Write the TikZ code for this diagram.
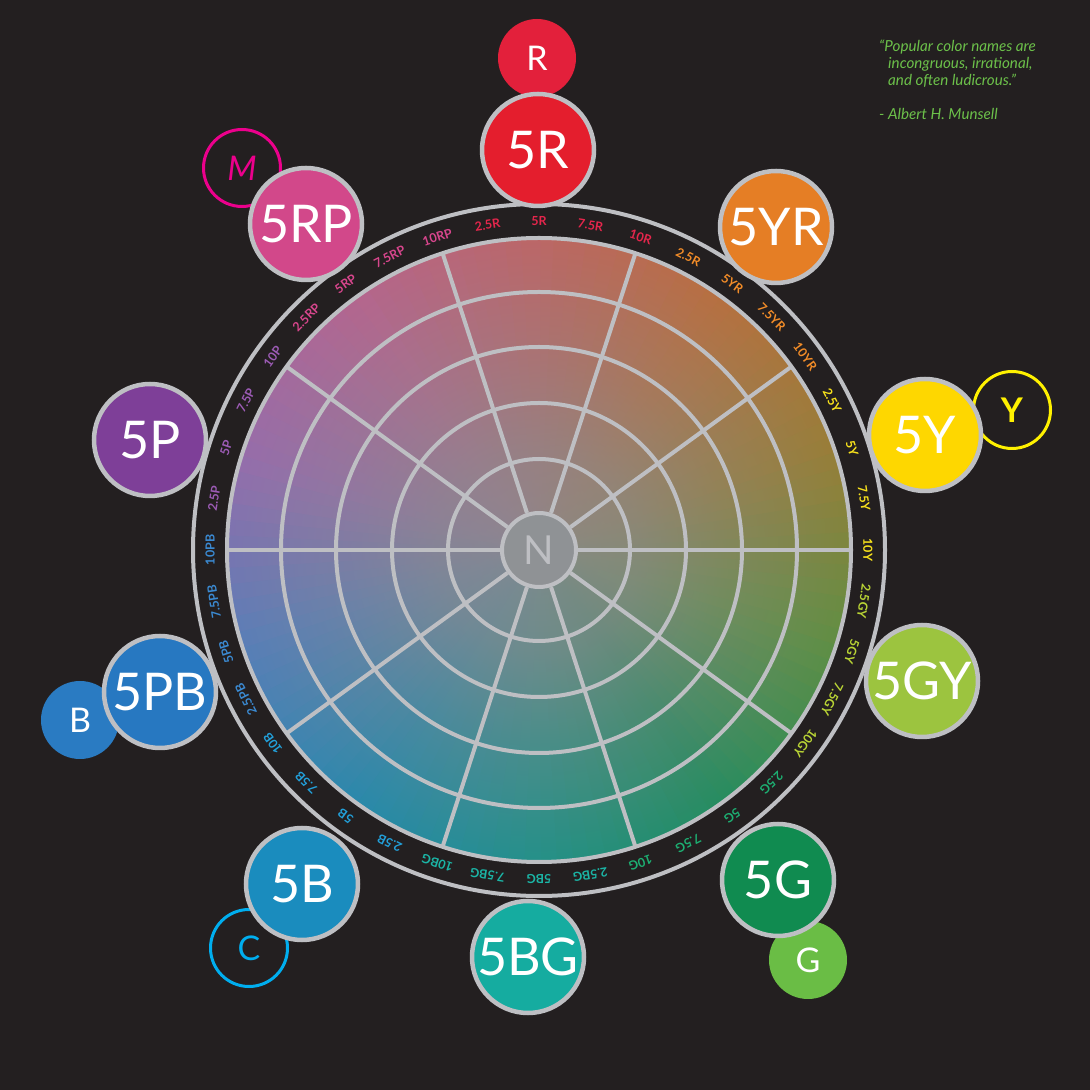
\documentclass[tikz,border=0pt]{standalone}
\usepackage{fontspec}
\setmainfont{Lato}
\usetikzlibrary{fadings,calc}
\definecolor{bg}{HTML}{231F20}
\definecolor{rim}{HTML}{BEBFC3}
\definecolor{ngrey}{HTML}{8F9295}
\definecolor{ovgrey}{HTML}{8A8A8C}
% disk hues
\definecolor{d0}{HTML}{CA5D5C}
\definecolor{d1}{HTML}{C4682A}
\definecolor{d2}{HTML}{9C7B20}
\definecolor{d3}{HTML}{54902F}
\definecolor{d4}{HTML}{0A8D52}
\definecolor{d5}{HTML}{089287}
\definecolor{d6}{HTML}{0E89B4}
\definecolor{d7}{HTML}{4A7CC4}
\definecolor{d8}{HTML}{9A65B4}
\definecolor{d9}{HTML}{C05C90}
% label colours
\definecolor{lR}{HTML}{E5264C}
\definecolor{lYR}{HTML}{F28C28}
\definecolor{lY}{HTML}{F7E11C}
\definecolor{lGY}{HTML}{B9D435}
\definecolor{lG}{HTML}{1DAF72}
\definecolor{lBG}{HTML}{1BB5A6}
\definecolor{lB}{HTML}{22A0DA}
\definecolor{lPB}{HTML}{3B8AD2}
\definecolor{lP}{HTML}{9C5BB5}
\definecolor{lRP}{HTML}{D8468D}
% big circles
\definecolor{cR}{HTML}{E41E2D}
\definecolor{cYR}{HTML}{E57E25}
\definecolor{cY}{HTML}{FED700}
\definecolor{cGY}{HTML}{9CC43F}
\definecolor{cG}{HTML}{108B50}
\definecolor{cBG}{HTML}{15ACA0}
\definecolor{cB}{HTML}{1A8CBE}
\definecolor{cPB}{HTML}{2778C1}
\definecolor{cP}{HTML}{7E3F98}
\definecolor{cRP}{HTML}{D2488A}
% small circles
\definecolor{sR}{HTML}{E3203B}
\definecolor{sG}{HTML}{6ABD45}
\definecolor{sB}{HTML}{2A7BC2}
\definecolor{sY}{HTML}{FFF100}
\definecolor{sM}{HTML}{EC008C}
\definecolor{sC}{HTML}{00AEEF}
\definecolor{qgreen}{HTML}{6CC04A}

\pgfdeclareradialshading{greyshade}{\pgfpointorigin}{color(0bp)=(transparent!8); color(8bp)=(transparent!22); color(15bp)=(transparent!48); color(25bp)=(transparent!78); color(35bp)=(transparent!94); color(50bp)=(transparent!100)}
\pgfdeclarefading{greyfade}{\pgfuseshading{greyshade}}

\tikzset{
  bigc/.style={circle, draw=rim, line width=4.5pt, minimum size=112pt, inner sep=0pt, text=white, font=\fontsize{52}{52}\selectfont},
  fillsmall/.style={circle, minimum size=78pt, inner sep=0pt, text=white, font=\fontsize{34}{34}\selectfont},
  outsmall/.style={circle, line width=3pt, minimum size=77pt, inner sep=0pt, font=\fontsize{34}{34}\selectfont},
  ringlbl/.style={font=\bfseries\fontsize{12.5}{12.5}\selectfont, inner sep=0pt},
  gridline/.style={draw=rim, line width=4pt},
}

\begin{document}
\begin{tikzpicture}[x=1pt,y=1pt]
\fill[bg] (0,0) rectangle (1090,1090);
\useasboundingbox (0,0) rectangle (1090,1090);
\coordinate (C) at (539,540);

% hue wedges
\foreach \k in {0,...,9}{
  \pgfmathtruncatemacro\kn{mod(\k+1,10)}
  \foreach \j in {0,...,11}{
    \pgfmathtruncatemacro\p{100-(\j+0.5)*100/12}
    \pgfmathsetmacro\aa{90-36*\k-3*\j+0.3}
    \pgfmathsetmacro\ab{90-36*\k-3*(\j+1)-0.3}
    \fill[d\k!\p!d\kn] (C) -- ($(C)+(\aa:312)$) arc[start angle=\aa, end angle=\ab, radius=312] -- cycle;
  }
}
% grey centre
\fill[ovgrey, path fading=greyfade] (C) circle (312);

% grid
\foreach \r in {91,147,203,258,312}{
  \draw[gridline] (C) circle (\r);
}
\foreach \ang in {0,36,...,324}{
  \draw[gridline] ($(C)+(\ang:39)$) -- ($(C)+(\ang:312)$);
}
\draw[gridline] (C) circle (346);
\node[circle, fill=ngrey, draw=rim, line width=4pt, minimum size=74pt, inner sep=0pt, text=rim, font=\fontsize{40}{40}\selectfont] (N) at (C) {N};

% ring labels
\foreach \ang/\lbl/\lc [count=\i] in {
90/5R/lR, 81/7.5R/lR, 72/10R/lR, 63/2.5R/lYR, 54/5YR/lYR, 45/7.5YR/lYR, 36/10YR/lYR,
27/2.5Y/lY, 18/5Y/lY, 9/7.5Y/lY, 0/10Y/lY,
-9/2.5GY/lGY, -18/5GY/lGY, -27/7.5GY/lGY, -36/10GY/lGY,
-45/2.5G/lG, -54/5G/lG, -63/7.5G/lG, -72/10G/lG,
-81/2.5BG/lBG, -90/5BG/lBG, -99/7.5BG/lBG, -108/10BG/lBG,
-117/2.5B/lB, -126/5B/lB, -135/7.5B/lB, -144/10B/lB,
-153/2.5PB/lPB, -162/5PB/lPB, -171/7.5PB/lPB, -180/10PB/lPB,
-189/2.5P/lP, -198/5P/lP, -207/7.5P/lP, -216/10P/lP,
-225/2.5RP/lRP, -234/5RP/lRP, -243/7.5RP/lRP, -252/10RP/lRP,
-261/2.5R/lR}{
  \node[ringlbl, text=\lc, rotate=\ang-90] (lab\i) at ($(C)+(\ang:329)$) {\lbl};
}

% small circles (behind)
\node[fillsmall, fill=sR] (sr) at (537,1032) {R};
\node[outsmall, draw=sY, text=sY, font=\bfseries\fontsize{34}{34}\selectfont] (sy) at (1012,680) {Y};
\node[fillsmall, fill=sG] (sg) at (808,130) {G};
\node[outsmall, draw=sC, text=sC] (sc) at (249,142) {C};
\node[fillsmall, fill=sB] (sb) at (80,370) {B};
\node[outsmall, draw=sM, text=sM, font=\itshape\fontsize{34}{34}\selectfont] (sm) at (242,922) {M};

% big circles
\node[bigc, fill=cR] (h5R) at (538,940) {5R};
\node[bigc, fill=cYR] (h5YR) at (776,863) {5YR};
\node[bigc, fill=cY] (h5Y) at (925,655) {5Y};
\node[bigc, fill=cGY] (h5GY) at (922,409) {5GY};
\node[bigc, fill=cG] (h5G) at (778,210) {5G};
\node[bigc, fill=cBG] (h5BG) at (528,133) {5BG};
\node[bigc, fill=cB] (h5B) at (302,206) {5B};
\node[bigc, fill=cPB] (h5PB) at (160,398) {5PB};
\node[bigc, fill=cP] (h5P) at (150,650) {5P};
\node[bigc, fill=cRP] (h5RP) at (306,866) {5RP};

% quote
\node[anchor=north west, align=left, text=qgreen, inner sep=0pt,
      font=\itshape\fontsize{15.2}{17}\selectfont] (quote) at (879,1050)
  {“Popular color names are\\\hspace*{9pt}incongruous, irrational,\\\hspace*{9pt}and often ludicrous.”\\[17pt]- Albert H. Munsell};
\end{tikzpicture}
\end{document}
